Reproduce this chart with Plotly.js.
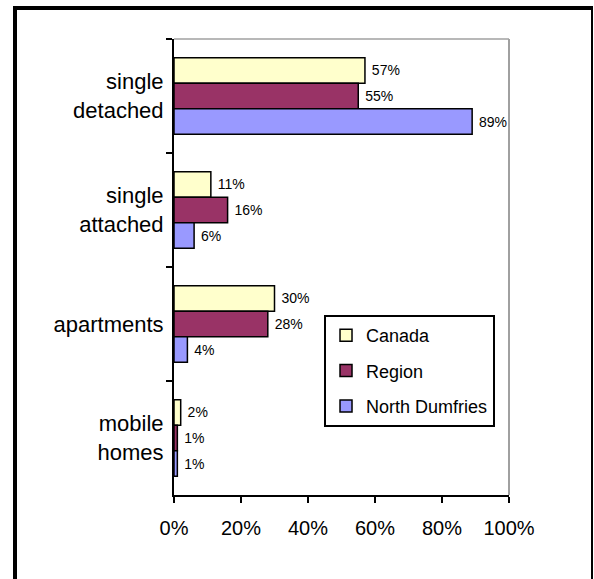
<!DOCTYPE html>
<html>
<head>
<meta charset="utf-8">
<script src="https://cdn.plot.ly/plotly-3.0.1.min.js"></script>
<style>
  html, body { margin: 0; padding: 0; background: #fff; overflow: hidden; }
  #wrap { position: relative; width: 594px; height: 579px; }
  #chart { position: absolute; left: 0; top: 0; width: 594px; height: 579px; }
  #frame { position: absolute; left: 13px; top: 6px; width: 574px; height: 620px;
           border-left: 4px solid #000; border-top: 4px solid #000; border-right: 2px solid #000;
           pointer-events: none; }
</style>
</head>
<body>
<div id="wrap">
  <div id="chart"></div>
  <div id="frame"></div>
</div>
<script>
// Categories (top to bottom) as shown on the y axis
const categories = ['single<br>detached', 'single<br>attached', 'apartments', 'mobile<br>homes'];
// Series values in percent
const seriesNames = ['Canada', 'Region', 'North Dumfries'];
const canada = [57, 11, 30, 2];
const region = [55, 16, 28, 1];
const northDumfries = [89, 6, 4, 1];
// X tick values
const xTicks = [0, 20, 40, 60, 80, 100];

const colors = ['#FFFFCC', '#993366', '#9999FF'];
const FONT = 'Liberation Sans, Arial, sans-serif';

function mk(name, vals, color, idx) {
  return {
    type: 'bar', orientation: 'h', name: name,
    x: vals, y: categories,
    marker: { color: color, line: { color: '#000', width: 1.5 } },
    text: vals.map(v => '\u00a0' + v + '%'),
    textposition: 'outside',
    textfont: { family: FONT, size: 14, color: '#000' },
    outsidetextfont: { family: FONT, size: 14, color: '#000' },
    constraintext: 'none',
    cliponaxis: false,
    legendgroup: 'g' + idx,
    hoverinfo: 'skip'
  };
}

const data = [
  mk(seriesNames[0], canada, colors[0], 0),
  mk(seriesNames[1], region, colors[1], 1),
  mk(seriesNames[2], northDumfries, colors[2], 2)
];

const layout = {
  width: 594, height: 579,
  margin: { l: 174, r: 85, t: 39, b: 84 },
  paper_bgcolor: '#fff', plot_bgcolor: '#fff',
  font: { family: FONT, color: '#000' },
  barmode: 'group', bargap: 0.327, bargroupgap: 0,
  showlegend: true,
  legend: {
    x: 0.4478, y: 0.3947, xanchor: 'left', yanchor: 'top',
    bordercolor: '#000', borderwidth: 2, bgcolor: '#fff',
    font: { family: FONT, size: 18, color: '#000' },
    traceorder: 'grouped', tracegroupgap: 9
  },
  xaxis: {
    range: [0, 100], tickvals: xTicks, ticktext: xTicks.map(v => v + '%'),
    showgrid: false, zeroline: false,
    showline: true, linecolor: '#000', linewidth: 2,
    ticks: 'outside', ticklen: 6, tickcolor: '#000', tickwidth: 2,
    ticklabelstandoff: 8,
    tickfont: { family: FONT, size: 20, color: '#000' },
    fixedrange: true
  },
  xaxis2: {
    overlaying: 'x', anchor: 'y', side: 'bottom',
    range: [0, 100], tickvals: xTicks, showticklabels: false,
    showgrid: false, zeroline: false, showline: false,
    ticks: 'inside', ticklen: 5, tickcolor: '#000', tickwidth: 2
  },
  yaxis: {
    type: 'category', autorange: 'reversed',
    tickson: 'boundaries', ticks: 'outside', ticklen: 6, tickcolor: '#000', tickwidth: 2,
    ticklabelstandoff: 4,
    showgrid: false, zeroline: false,
    showline: true, linecolor: '#000', linewidth: 2,
    tickfont: { family: FONT, size: 22, color: '#000' },
    fixedrange: true
  },
  shapes: [
    { type: 'line', xref: 'paper', yref: 'paper', x0: 0, x1: 1, y0: 1, y1: 1, line: { color: '#a0a0a0', width: 1.5 } },
    { type: 'line', xref: 'paper', yref: 'paper', x0: 1, x1: 1, y0: 0, y1: 1, line: { color: '#a0a0a0', width: 2 } }
  ]
};

Plotly.newPlot('chart', data, layout, { displayModeBar: false, staticPlot: true });
</script>
</body>
</html>
